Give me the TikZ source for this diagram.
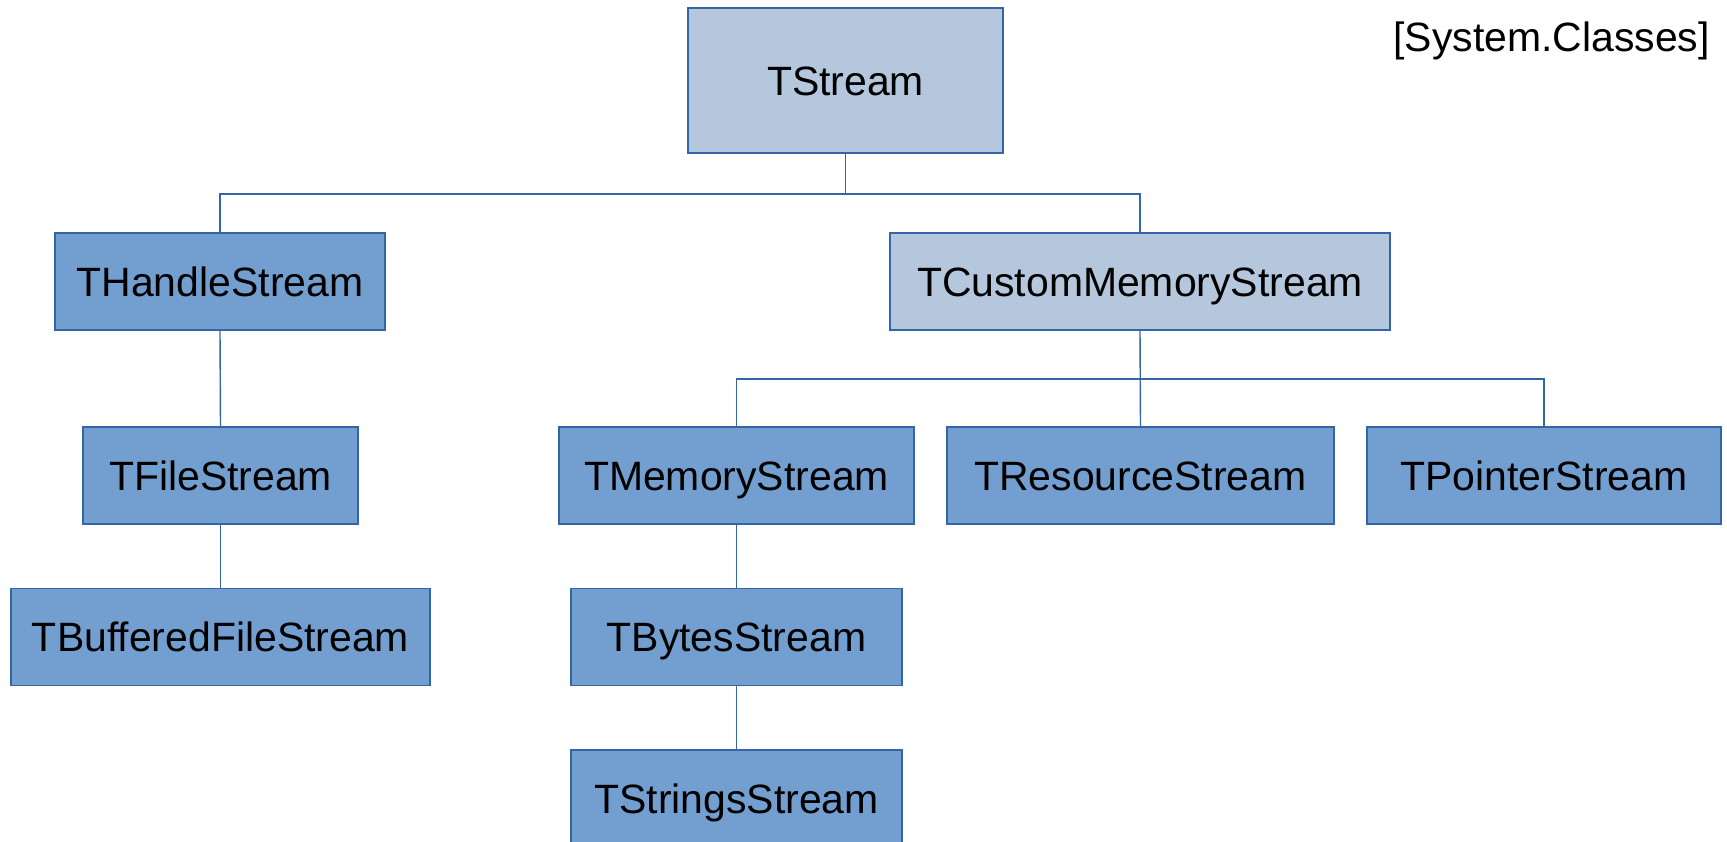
\documentclass[tikz,border=0pt]{standalone}
\usepackage{fontspec}
\setmainfont{Liberation Sans}
\usepackage{tikz}
\usetikzlibrary{positioning}
\definecolor{boxline}{HTML}{3465A4}
\definecolor{abstractfill}{HTML}{B4C7DC}
\definecolor{concretefill}{HTML}{729FCF}

\begin{document}
\begin{tikzpicture}[
    cls/.style={draw=boxline, line width=1.1pt, inner sep=0pt, minimum height=1.94cm, text height=16.7pt, text depth=0pt, font=\fontsize{23.3}{28}\selectfont},
    abstract/.style={cls, fill=abstractfill},
    concrete/.style={cls, fill=concretefill},
    link/.style={draw=boxline, line width=0.8pt}
  ]
    \useasboundingbox (0,0) rectangle (34.54,-16.84);
    \node[abstract, minimum width=6.3cm, minimum height=2.9cm] (tstream) at (16.91,-1.61) {TStream};
    \node[concrete, minimum width=6.6cm] (handle) at (4.40,-5.63) {THandleStream};
    \node[abstract, minimum width=10cm] (custom) at (22.80,-5.63) {TCustomMemoryStream};
    \node[concrete, minimum width=5.5cm] (filestream) at (4.41,-9.51) {TFileStream};
    \node[concrete, minimum width=7.1cm] (memory) at (14.73,-9.51) {TMemoryStream};
    \node[concrete, minimum width=7.74cm] (resource) at (22.81,-9.51) {TResourceStream};
    \node[concrete, minimum width=7.08cm] (pointer) at (30.88,-9.51) {TPointerStream};
    \node[concrete, minimum width=8.38cm] (buffered) at (4.41,-12.74) {TBufferedFileStream};
    \node[concrete, minimum width=6.62cm] (bytes) at (14.73,-12.74) {TBytesStream};
    \node[concrete, minimum width=6.62cm] (strings) at (14.73,-15.97) {TStringsStream};
    \node[anchor=east, inner sep=0pt, font=\fontsize{23.3}{28}\selectfont] (unit) at (34.2,-0.82) {[System.Classes]};
    \coordinate (bus1) at (0,-3.88);
    \coordinate (bus2) at (0,-7.58);
    \draw[link] (tstream.south) -- (tstream.south |- bus1);
    \draw[link] (handle.north) |- (custom.north |- bus1) -- (custom.north);
    \draw[link] (custom.south) -- (resource.north);
    \draw[link] (memory.north) |- (pointer.north |- bus2) -- (pointer.north);
    \draw[link] (handle.south) -- (filestream.north);
    \draw[link] (filestream.south) -- (buffered.north);
    \draw[link] (memory.south) -- (bytes.north);
    \draw[link] (bytes.south) -- (strings.north);
  \end{tikzpicture}
\end{document}
